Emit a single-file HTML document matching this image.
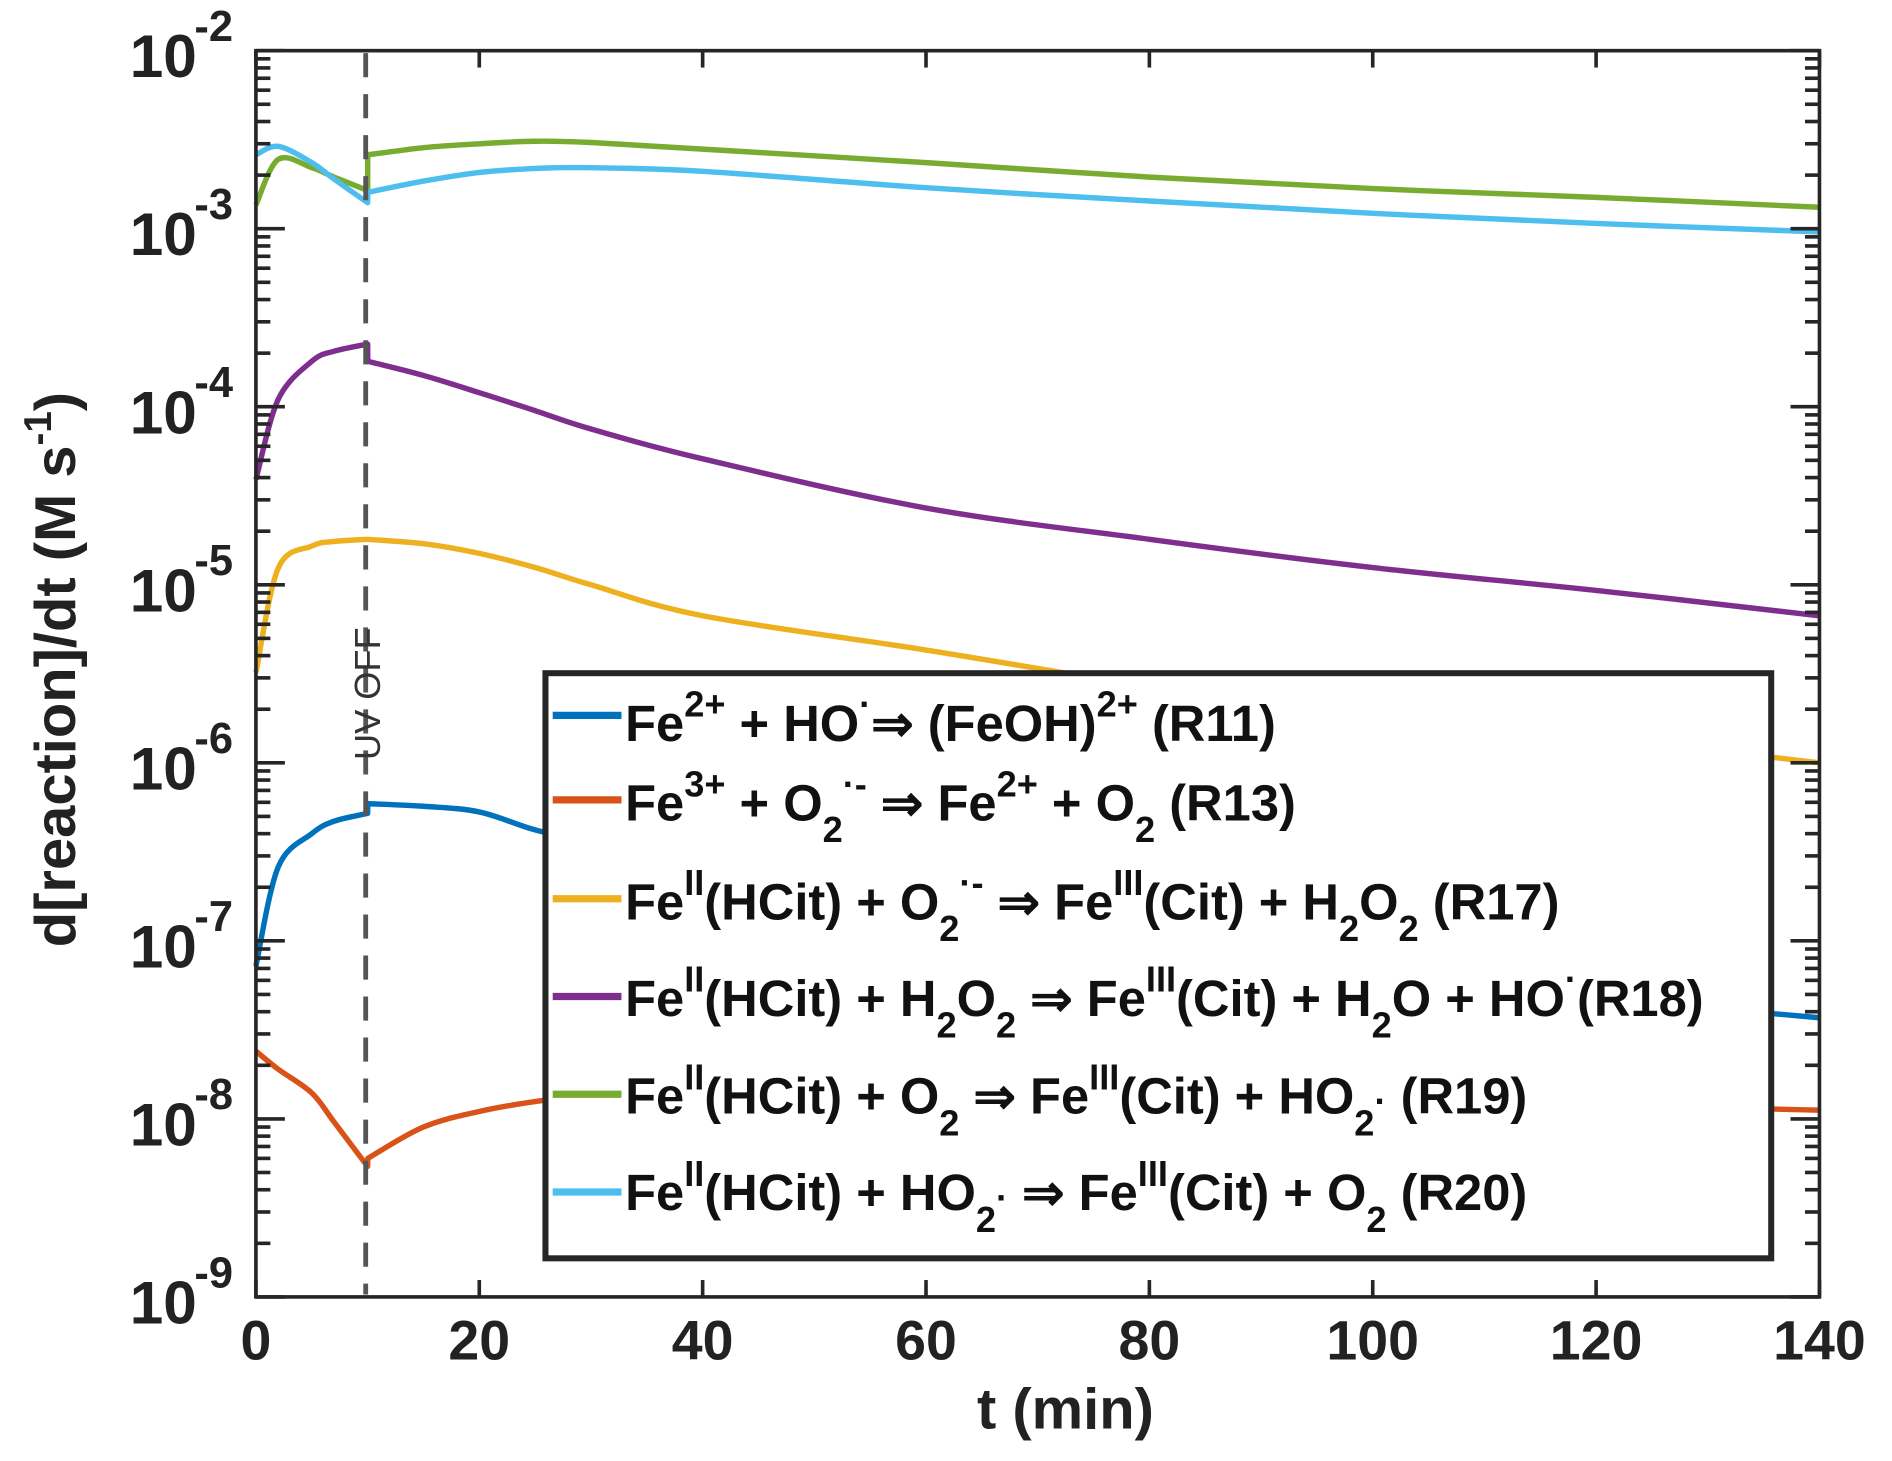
<!DOCTYPE html>
<html><head><meta charset="utf-8"><style>
html,body{margin:0;padding:0;background:#fff;}
svg{display:block;font-family:"Liberation Sans",sans-serif;}
</style></head><body>
<svg id="chart" width="1892" height="1461" viewBox="0 0 1568 1211" xmlns="http://www.w3.org/2000/svg">
<g id="marks"></g>
<g id="axes"></g>
<line x1="303" y1="44" x2="303" y2="1073" stroke="#555" stroke-width="4" stroke-dasharray="20 14"/>
<text transform="translate(315,630) rotate(-90)" font-size="30" fill="#333">UV OFF</text>
<g font-weight="bold" font-size="42" fill="#111">
<rect x="452" y="558" width="1016" height="485" fill="#fff" stroke="#262626" stroke-width="5"/>
<line x1="458" y1="593" x2="515" y2="593" stroke="#0072BD" stroke-width="6"/>
<text x="518" y="614">Fe<tspan font-size="30" dy="-20">2+</tspan><tspan dy="20"> +  HO</tspan><tspan font-size="30" dy="-20">·</tspan><tspan dy="20">⇒ (FeOH)</tspan><tspan font-size="30" dy="-20">2+</tspan><tspan dy="20"> (R11)</tspan></text>
<line x1="458" y1="663" x2="515" y2="663" stroke="#D95319" stroke-width="6"/>
<text x="518" y="680">Fe<tspan font-size="30" dy="-20">3+</tspan><tspan dy="20"> + O</tspan><tspan font-size="30" dy="18">2</tspan><tspan font-size="30" dy="-38">·-</tspan><tspan dy="20">  ⇒ Fe</tspan><tspan font-size="30" dy="-20">2+</tspan><tspan dy="20"> + O</tspan><tspan font-size="30" dy="18">2</tspan><tspan dy="-18"> (R13)</tspan></text>
<line x1="458" y1="745" x2="515" y2="745" stroke="#EDB120" stroke-width="6"/>
<text x="518" y="762">Fe<tspan font-size="30" dy="-20">II</tspan><tspan dy="20">(HCit) + O</tspan><tspan font-size="30" dy="18">2</tspan><tspan font-size="30" dy="-38">·-</tspan><tspan dy="20"> ⇒ Fe</tspan><tspan font-size="30" dy="-20">III</tspan><tspan dy="20">(Cit) + H</tspan><tspan font-size="30" dy="18">2</tspan><tspan dy="-18">O</tspan><tspan font-size="30" dy="18">2</tspan><tspan dy="-18"> (R17)</tspan></text>
<line x1="458" y1="826" x2="515" y2="826" stroke="#7E2F8E" stroke-width="6"/>
<text x="518" y="842">Fe<tspan font-size="30" dy="-20">II</tspan><tspan dy="20">(HCit) + H</tspan><tspan font-size="30" dy="18">2</tspan><tspan dy="-18">O</tspan><tspan font-size="30" dy="18">2</tspan><tspan dy="-18">  ⇒ Fe</tspan><tspan font-size="30" dy="-20">III</tspan><tspan dy="20">(Cit) + H</tspan><tspan font-size="30" dy="18">2</tspan><tspan dy="-18">O +  HO</tspan><tspan font-size="30" dy="-20">·</tspan><tspan dy="20">(R18)</tspan></text>
<line x1="458" y1="907" x2="515" y2="907" stroke="#77AC30" stroke-width="6"/>
<text x="518" y="923">Fe<tspan font-size="30" dy="-20">II</tspan><tspan dy="20">(HCit) + O</tspan><tspan font-size="30" dy="18">2</tspan><tspan dy="-18">  ⇒ Fe</tspan><tspan font-size="30" dy="-20">III</tspan><tspan dy="20">(Cit) + HO</tspan><tspan font-size="30" dy="18">2</tspan><tspan font-size="30" dy="-18">·</tspan><tspan> (R19)</tspan></text>
<line x1="458" y1="988" x2="515" y2="988" stroke="#4DBEEE" stroke-width="6"/>
<text x="518" y="1003">Fe<tspan font-size="30" dy="-20">II</tspan><tspan dy="20">(HCit) + HO</tspan><tspan font-size="30" dy="18">2</tspan><tspan font-size="30" dy="-18">·</tspan><tspan>  ⇒ Fe</tspan><tspan font-size="30" dy="-20">III</tspan><tspan dy="20">(Cit) + O</tspan><tspan font-size="30" dy="18">2</tspan><tspan dy="-18"> (R20)</tspan></text>
</g>
<text x="883" y="1184" text-anchor="middle" font-size="48" font-weight="bold" fill="#222">t (min)</text>
<text transform="translate(62,555) rotate(-90)" text-anchor="middle" font-size="48" font-weight="bold" fill="#222">d[reaction]/dt (M s<tspan font-size="32" dy="-20">-1</tspan><tspan dy="20">)</tspan></text>
</svg>
<script>
const times = [0,2,5,7,10,10.01,15,20,25,30,40,60,80,100,120,140];
const r11 = [7.2e-8,2.6e-7,4e-7,4.7e-7,5.2e-7,5.9e-7,5.7e-7,5.3e-7,4.2e-7,3.6e-7,2.7e-7,1.6e-7,1.0e-7,6.5e-8,4.8e-8,3.7e-8];
const r13 = [2.4e-8,1.9e-8,1.4e-8,9.6e-9,5.4e-9,6.0e-9,9e-9,1.1e-8,1.25e-8,1.35e-8,1.45e-8,1.45e-8,1.38e-8,1.3e-8,1.2e-8,1.12e-8];
const r17 = [3.2e-6,1.24e-5,1.65e-5,1.75e-5,1.8e-5,1.8e-5,1.7e-5,1.5e-5,1.25e-5,1.0e-5,6.7e-6,4.3e-6,2.7e-6,1.9e-6,1.4e-6,1.0e-6];
const r18 = [3.9e-5,1.1e-4,1.8e-4,2.05e-4,2.25e-4,1.8e-4,1.5e-4,1.2e-4,9.5e-5,7.5e-5,5.1e-5,2.7e-5,1.8e-5,1.25e-5,9.3e-6,6.7e-6];
const r19 = [1.36e-3,2.45e-3,2.2e-3,1.95e-3,1.64e-3,2.6e-3,2.85e-3,3.0e-3,3.1e-3,3.05e-3,2.8e-3,2.35e-3,1.95e-3,1.68e-3,1.5e-3,1.32e-3];
const r20 = [2.6e-3,2.9e-3,2.35e-3,1.9e-3,1.4e-3,1.6e-3,1.85e-3,2.07e-3,2.18e-3,2.2e-3,2.1e-3,1.7e-3,1.43e-3,1.22e-3,1.07e-3,0.96e-3];
const seriesNames = ['r11','r13','r17','r18','r19','r20'];
const xTicks = [0,20,40,60,80,100,120,140];
const yExps = [-2,-3,-4,-5,-6,-7,-8,-9];

const X0=212,X1=1508,Y0=42,Y1=1075;
const colors=['#0072BD','#D95319','#EDB120','#7E2F8E','#77AC30','#4DBEEE'];
function xs(t){return X0+(t-0)/140*(X1-X0);}
function ys(v){return Y0+(-2-Math.log10(v))/7*(Y1-Y0);}
const NS='http://www.w3.org/2000/svg';
const marks=document.getElementById('marks'), axes=document.getElementById('axes');
function smoothPath(pts){
  // split at discontinuities, Catmull-Rom within segments
  const segs=[[pts[0]]];
  for(let i=1;i<pts.length;i++){
    if(pts[i][0]-pts[i-1][0]<1) segs.push([pts[i]]); else segs[segs.length-1].push(pts[i]);
  }
  let d='';
  segs.forEach((s,k)=>{
    if(k>0){d+='L'+s[0][0].toFixed(1)+' '+s[0][1].toFixed(1);} else d+='M'+s[0][0].toFixed(1)+' '+s[0][1].toFixed(1);
    for(let i=0;i<s.length-1;i++){
      const p0=s[Math.max(0,i-1)],p1=s[i],p2=s[i+1],p3=s[Math.min(s.length-1,i+2)];
      const c1=[p1[0]+(p2[0]-p0[0])/6,p1[1]+(p2[1]-p0[1])/6];
      const c2=[p2[0]-(p3[0]-p1[0])/6,p2[1]-(p3[1]-p1[1])/6];
      d+='C'+c1[0].toFixed(1)+' '+c1[1].toFixed(1)+' '+c2[0].toFixed(1)+' '+c2[1].toFixed(1)+' '+p2[0].toFixed(1)+' '+p2[1].toFixed(1);
    }
  });
  return d;
}
[r11,r13,r17,r18,r19,r20].forEach((s,i)=>{
  const p=document.createElementNS(NS,'path');
  p.setAttribute('d',smoothPath(s.map((v,j)=>[xs(times[j]),ys(v)])));
  p.setAttribute('fill','none');p.setAttribute('stroke',colors[i]);p.setAttribute('stroke-width','4.5');p.setAttribute('stroke-linejoin','round');
  
  
  marks.appendChild(p);
});
function mk(tag,attrs){const e=document.createElementNS(NS,tag);for(const k in attrs)e.setAttribute(k,attrs[k]);axes.appendChild(e);return e;}
const frame=mk('rect',{x:X0,y:Y0,width:X1-X0,height:Y1-Y0,fill:'none',stroke:'#262626','stroke-width':3});


xTicks.forEach(t=>{
  const x=xs(t);
  mk('line',{x1:x,y1:Y1,x2:x,y2:Y1-14,stroke:'#262626','stroke-width':3});
  mk('line',{x1:x,y1:Y0,x2:x,y2:Y0+14,stroke:'#262626','stroke-width':3});
  const tx=mk('text',{x:x,y:Y1+52,'text-anchor':'middle','font-size':46,'font-weight':'bold',fill:'#222'});
  tx.textContent=t;
  
  
});
yExps.forEach((e,i)=>{
  const y=ys(Math.pow(10,e));
  mk('line',{x1:X0,y1:y,x2:X0+24,y2:y,stroke:'#262626','stroke-width':3});
  mk('line',{x1:X1,y1:y,x2:X1-24,y2:y,stroke:'#262626','stroke-width':3});
  if(e>-9){for(let m=2;m<=9;m++){const yy=ys(m*Math.pow(10,e-1));
    mk('line',{x1:X0,y1:yy,x2:X0+12,y2:yy,stroke:'#262626','stroke-width':3});
    mk('line',{x1:X1,y1:yy,x2:X1-12,y2:yy,stroke:'#262626','stroke-width':3});}}
  const tx=mk('text',{x:163,y:y+22,'text-anchor':'end','font-size':50,'font-weight':'bold',fill:'#222'});
  tx.textContent='10';
  
  
  const sp=mk('text',{x:161,y:y-8,'text-anchor':'start','font-size':36,'font-weight':'bold',fill:'#222'});
  sp.textContent=String(e);
  
  
});
</script>
</body></html>
